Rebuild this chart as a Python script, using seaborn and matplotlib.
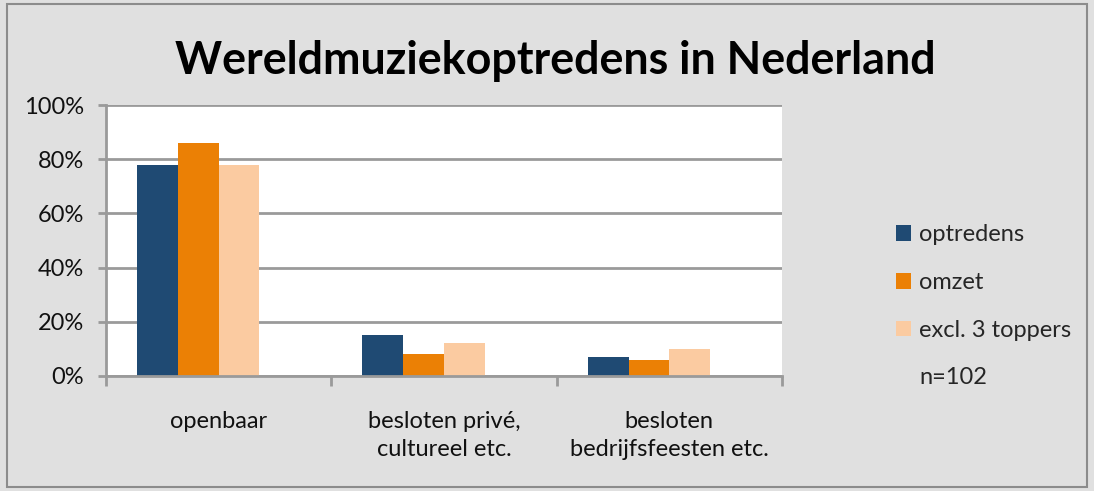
import matplotlib
matplotlib.use("Agg")
import matplotlib.pyplot as plt
import matplotlib.patches as mpatches
import seaborn as sns
import pandas as pd
import numpy as np

categories = ["openbaar", "besloten privé,\ncultureel etc.", "besloten\nbedrijfsfeesten etc."]
series = ["optredens", "omzet", "excl. 3 toppers", "n=102"]
optredens = [78, 15, 7]
omzet = [86, 8, 6]
excl_toppers = [78, 12, 10]
n102 = [np.nan, np.nan, np.nan]
colors = ["#1F4A73", "#EB8005", "#FBCBA1", (0, 0, 0, 0)]
yticks = [0, 20, 40, 60, 80, 100]
ytick_labels = ["0%", "20%", "40%", "60%", "80%", "100%"]

rows = []
for s, vals in zip(series, [optredens, omzet, excl_toppers, n102]):
    for c, v in zip(categories, vals):
        rows.append({"cat": c, "series": s, "val": v})
df = pd.DataFrame(rows)

sns.set_theme(style="white")
FONT = "Lato"
plt.rcParams["font.family"] = [FONT, "DejaVu Sans"]

bg = "#E0E0E0"
fig = plt.figure(figsize=(10.94, 4.91), dpi=100, facecolor=bg)
ax = fig.add_axes([106/1094, 1-376/491, (782-106)/1094, (376-105)/491])
ax.set_facecolor("white")

sns.barplot(data=df, x="cat", y="val", hue="series", order=categories, hue_order=series,
            palette=colors, width=0.724, ax=ax, errorbar=None, saturation=1, legend=False,
            linewidth=0)

ax.set_ylim(0, 100)
ax.set_xlim(-0.5, 2.5)
ax.set_yticks(yticks)
ax.set_yticklabels(ytick_labels, fontsize=17, color="#111111")
ax.set_xticks([0, 1, 2])
ax.set_xticklabels(categories, fontsize=17, color="#111111", linespacing=1.45)
ax.set_xlabel("")
ax.set_ylabel("")
ax.yaxis.grid(True, color="#9A9A9A", linewidth=2)
ax.set_axisbelow(True)
for side in ["top", "right"]:
    ax.spines[side].set_visible(False)
for side in ["left", "bottom"]:
    ax.spines[side].set_color("#9A9A9A")
    ax.spines[side].set_linewidth(2)
ax.tick_params(axis="y", length=6, width=2, color="#9A9A9A", pad=10, left=True)
ax.tick_params(axis="x", length=0, pad=25)
# category boundary tick marks
ax.set_xticks([-0.5, 0.5, 1.5, 2.5], minor=True)
ax.tick_params(axis="x", which="minor", length=7, width=2, color="#9A9A9A", bottom=True)

fig.text(0.508, 0.875, "Wereldmuziekoptredens in Nederland", ha="center", va="center",
         fontsize=32.3, fontweight="bold", color="black")

handles = [mpatches.Patch(facecolor=c, edgecolor="none") for c in colors]
leg = fig.legend(handles, series, loc="center left", bbox_to_anchor=(0.808, 0.376),
                 frameon=False, fontsize=17, handlelength=0.65, handleheight=0.65,
                 handletextpad=0.35, labelspacing=1.13, borderpad=0)

border = mpatches.Rectangle((7/1094, 4/491), 1-14/1094, 1-8/491, transform=fig.transFigure,
                            fill=False, edgecolor="#8C8C8C", linewidth=1.5)
fig.patches.append(border)

fig.savefig("out.png", dpi=100, facecolor=bg)
